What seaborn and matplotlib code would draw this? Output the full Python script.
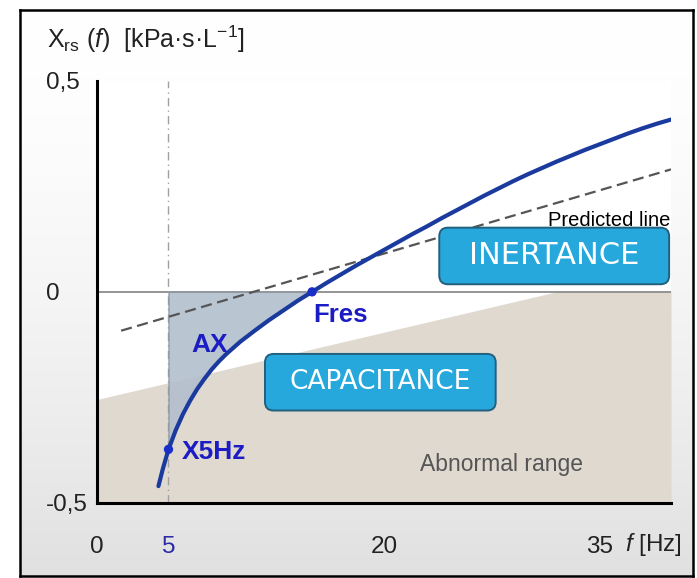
import numpy as np
import pandas as pd
import matplotlib
matplotlib.use("Agg")
import matplotlib.pyplot as plt
from matplotlib.patches import FancyBboxPatch
import seaborn as sns

# Respiratory reactance Xrs(f), kPa·s·L⁻¹
freq = [4.3, 4.6, 5.0, 5.5, 6.0, 6.5, 7.0, 7.5, 8.0, 8.5, 9.0, 9.5, 10.0,
        11.0, 12.0, 13.0, 14.0, 15.0, 16.0, 17.0, 18.0, 19.0, 20.0, 21.0,
        22.0, 23.0, 24.0, 25.0, 26.0, 27.0, 28.0, 29.0, 30.0, 31.0, 32.0,
        33.0, 34.0, 35.0, 36.0, 37.0, 38.0, 39.0, 40.0]
xrs = [-0.460, -0.420, -0.373, -0.328, -0.290, -0.258, -0.230, -0.206,
       -0.184, -0.165, -0.148, -0.133, -0.118, -0.092, -0.067, -0.044,
       -0.021, 0.000, 0.021, 0.041, 0.061, 0.080, 0.099, 0.118, 0.137,
       0.155, 0.174, 0.192, 0.210, 0.228, 0.245, 0.262, 0.278, 0.293,
       0.308, 0.322, 0.336, 0.349, 0.362, 0.375, 0.387, 0.398, 0.408]

# Predicted reactance line
pred_freq = [1.7, 40.0]
pred_xrs = [-0.092, 0.290]

# Upper boundary of the abnormal range
abn_freq = [0.0, 32.0, 40.0]
abn_top = [-0.255, 0.0, 0.0]

# Marked points
x5_freq, x5_val = 5.0, -0.373
fres_freq, fres_val = 15.0, 0.0

xtick_vals = [0, 5, 10, 15, 20, 25, 30, 35, 40]
xtick_labels = ["0", "5", "", "", "20", "", "", "35", ""]
ytick_vals = [-0.5, -1 / 3, -1 / 6, 0.0, 1 / 6, 1 / 3, 0.5]
ytick_labels = ["-0,5", "", "", "0", "", "", "0,5"]

curve = pd.DataFrame({"f": freq, "X": xrs})
pred = pd.DataFrame({"f": pred_freq, "X": pred_xrs})
points = pd.DataFrame({"f": [x5_freq, fres_freq], "X": [x5_val, fres_val]})

sns.set_style("white")
plt.rcParams["font.family"] = ["Liberation Sans", "DejaVu Sans"]
plt.rcParams["mathtext.fontset"] = "custom"
plt.rcParams["mathtext.rm"] = "Liberation Sans"
plt.rcParams["mathtext.it"] = "Liberation Sans:italic"

W, H = 697, 578
fig = plt.figure(figsize=(W / 100, H / 100), dpi=100)

# framed panel with a soft vertical gradient
bg = fig.add_axes([20 / W, 2 / H, 673 / W, 566 / H])
t = np.linspace(0, 1, 256)[:, None]
shade = 1.0 - 0.12 * t ** 1.6
bg.imshow(np.dstack([shade, shade, shade]), aspect="auto", extent=[0, 1, 0, 1],
          interpolation="bilinear")
bg.set_xlim(0, 1)
bg.set_ylim(0, 1)
bg.set_xticks([])
bg.set_yticks([])
for s in bg.spines.values():
    s.set_visible(True)
    s.set_color("black")
    s.set_linewidth(1.8)

ax = fig.add_axes([96.7 / W, 75 / H, (671 - 96.7) / W, (503 - 80.7) / H])
ax.set_facecolor("white")
ax.set_xlim(0, 40)
ax.set_ylim(-0.5, 0.5)

# abnormal range
ax.fill_between(abn_freq, -0.5, abn_top, color="#dfd9d0", lw=0, zorder=1)

# zero reference and 5 Hz marker line
ax.axhline(0, color="#8c8c8c", lw=1.3, zorder=2)
ax.axvline(5, color="#a0a0a0", lw=1.0, ls=(0, (6, 3, 1, 3)), zorder=2)

# area of reactance (AX) between 5 Hz and Fres
f_arr = np.array(freq)
x_arr = np.array(xrs)
mask = (f_arr >= x5_freq) & (f_arr <= fres_freq)
ax.fill_between(f_arr[mask], x_arr[mask], 0, color="#b3bfcd", alpha=0.9,
                edgecolor="#8e98a4", lw=1.0, zorder=3)

sns.lineplot(data=pred, x="f", y="X", ax=ax, color="#555555", lw=1.6,
             linestyle=(0, (5, 2.5)), zorder=4)
sns.lineplot(data=curve, x="f", y="X", ax=ax, color="#1b3a9e", lw=3.0,
             zorder=6)
sns.scatterplot(data=points, x="f", y="X", ax=ax, color="#1a2fc8", s=45,
                edgecolor="none", zorder=7)

# annotations
lab_blue = "#1c1cc4"
ax.text(15.1, -0.056, "Fres", color=lab_blue, fontsize=18.5,
        fontweight="bold", ha="left", va="center", zorder=8)
ax.text(7.85, -0.125, "AX", color=lab_blue, fontsize=19,
        fontweight="bold", ha="center", va="center", zorder=8)
ax.text(5.95, -0.380, "X5Hz", color=lab_blue, fontsize=19,
        fontweight="bold", ha="left", va="center", zorder=8)
ax.text(39.95, 0.170, "Predicted line", color="black", fontsize=14.5,
        ha="right", va="center", zorder=5)
ax.text(28.2, -0.41, "Abnormal range", color="#555555", fontsize=16.5,
        ha="center", va="center", zorder=8)

# region boxes
asp = (14.36 / 423.0)
for (x0, x1, y0, y1, label, fs) in [
        (23.86, 39.87, 0.018, 0.152, "INERTANCE", 22),
        (11.72, 27.79, -0.281, -0.147, "CAPACITANCE", 19)]:
    box = FancyBboxPatch((x0, y0), x1 - x0, y1 - y0,
                         boxstyle="round,pad=0,rounding_size=0.6",
                         mutation_aspect=asp, facecolor="#27a8dc",
                         edgecolor="#22607e", lw=1.4, zorder=9)
    ax.add_patch(box)
    ax.text((x0 + x1) / 2, (y0 + y1) / 2, label, color="white",
            fontsize=fs, family="DejaVu Sans", ha="center", va="center",
            zorder=10)

# axes styling
sns.despine(ax=ax)
for side in ("left", "bottom"):
    ax.spines[side].set_color("black")
    ax.spines[side].set_linewidth(2.2)
ax.set_xticks(xtick_vals)
ax.set_xticklabels(xtick_labels)
ax.set_yticks(ytick_vals)
ax.set_yticklabels(ytick_labels, ha="left")
ax.tick_params(axis="both", direction="out", length=3.5, width=1.6,
               color="black", labelsize=17.5, labelcolor="#222222")
ax.tick_params(axis="x", pad=20)
ax.tick_params(axis="y", pad=33)
ax.get_xticklabels()[1].set_color("#2a2aa6")
ax.set_xlabel("")
ax.set_ylabel("")

fig.text(47 / W, 1 - 48 / H,
         r"X$_\mathregular{rs}$ ($\mathit{f}$)  [kPa·s·L$^\mathregular{-1}$]",
         fontsize=18, color="#222222", ha="left", va="baseline")
ax.annotate(r"$\mathit{f}$ [Hz]", xy=(36.8, -0.5), xycoords="data",
            xytext=(0, -20.5), textcoords="offset points",
            fontsize=17.5, color="#222222", ha="left", va="top",
            annotation_clip=False)

fig.savefig("out.png", dpi=100)
